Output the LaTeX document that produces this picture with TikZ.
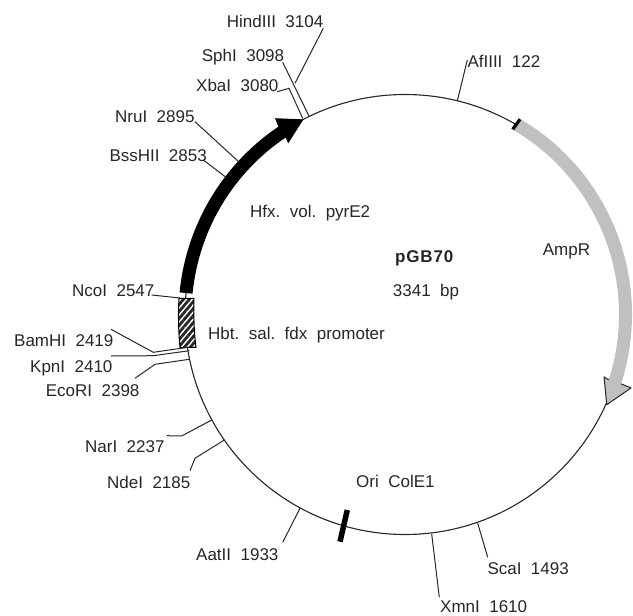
\documentclass[tikz,border=0pt]{standalone}
\usepackage{fontspec}
\setmainfont{Liberation Sans}
\newfontfamily\labbold[LetterSpace=5]{Liberation Sans Bold}
\usetikzlibrary{patterns.meta}
\definecolor{ampgray}{RGB}{192,192,192}
\newcommand{\gp}{\ \ }
\tikzset{
  x=1pt,y=-1pt,
  lab/.style={anchor=base west,inner sep=0pt,font=\fontsize{17}{20}\selectfont,text=black!85},
  wire/.style={draw=black!85,line width=1pt,line join=round},
  ring/.style={draw=black!85,line width=1.1pt}
}
\begin{document}
\begin{tikzpicture}
\useasboundingbox (0,0) rectangle (633,616);
\coordinate (C) at (405,314.5);
% backbone
\draw[ring] (C) circle[radius=220pt];
% black gene arrow
\fill[black] ([shift={(174.4:226.5pt)}]405pt,-314.5pt) arc[start angle=174.4,end angle=124,radius=226.5pt]
  -- ([shift={(123.5:235.4pt)}]405pt,-314.5pt) -- ([shift={(117.5:220pt)}]405pt,-314.5pt)
  -- ([shift={(124.3:207.2pt)}]405pt,-314.5pt) -- ([shift={(124:213.5pt)}]405pt,-314.5pt)
  arc[start angle=124,end angle=174.4,radius=213.5pt] -- cycle;
% gray gene arrow
\fill[ampgray] ([shift={(59.8:227pt)}]405pt,-314.5pt) arc[start angle=59.8,end angle=-17.8,radius=227pt]
  -- ([shift={(-18:237.7pt)}]405pt,-314.5pt) -- ([shift={(-24.1:221pt)}]405pt,-314.5pt)
  -- ([shift={(-17.4:208.6pt)}]405pt,-314.5pt) -- ([shift={(-17.8:214pt)}]405pt,-314.5pt)
  arc[start angle=-17.8,end angle=59.8,radius=214pt] -- cycle;
\draw[wire] ([shift={(-17.8:227pt)}]405pt,-314.5pt) -- ([shift={(-18:237.7pt)}]405pt,-314.5pt)
  -- ([shift={(-24.1:221pt)}]405pt,-314.5pt) -- ([shift={(-17.4:208.6pt)}]405pt,-314.5pt)
  -- ([shift={(-17.8:214pt)}]405pt,-314.5pt);
\draw[black,line width=3.2pt] (520,119.3) -- (512.7,129.3);
% promoter hatch
\fill[white] (179,298.3) -- (194,298.3) -- (196,347.3) -- (180,347.3) -- cycle;
\draw[black,line width=1pt,pattern={Lines[angle=50,distance=4.5pt,line width=2.8pt]},pattern color=black!85]
  (179,298.3) -- (194,298.3) .. controls (193.5,315) and (194,332) .. (196,347.3) -- (180,347.3) .. controls (178.5,332) and (178,315) .. (179,298.3) -- cycle;
% Ori bar
\draw[black,line width=5.5pt] (347.3,510) -- (340,541.7);
% text
\node[lab] (hind) at (226.7,27.5) {HindIII\gp 3104};
\node[lab] (sph) at (201.7,61) {SphI\gp 3098};
\node[lab] (xba) at (196,91.7) {XbaI\gp 3080};
\node[lab] (nru) at (115,122.3) {NruI\gp 2895};
\node[lab] (bss) at (109.3,161) {BssHII\gp 2853};
\node[lab] (nco) at (72,296) {NcoI\gp 2547};
\node[lab] (bam) at (14,346.7) {BamHI\gp 2419};
\node[lab] (kpn) at (30,372.3) {KpnI\gp 2410};
\node[lab] (eco) at (45.7,396) {EcoRI\gp 2398};
\node[lab] (nar) at (85,452.7) {NarI\gp 2237};
\node[lab] (nde) at (107,488.3) {NdeI\gp 2185};
\node[lab] (aat) at (196,560) {AatII\gp 1933};
\node[lab] (sca) at (487.3,574.3) {ScaI\gp 1493};
\node[lab] (xmn) at (440,612) {XmnI\gp 1610};
\node[lab] (afl) at (467.3,67.3) {AfIIII\gp 122};
\node[lab] (amp) at (542.7,255) {AmpR};
\node[lab] (hfx) at (250,217.7) {Hfx.\gp vol.\gp pyrE2};
\node[lab] (hbt) at (208,339) {Hbt.\gp sal.\gp fdx\gp promoter};
\node[lab] (ori) at (356,487.7) {Ori\gp ColE1};
\node[lab] (name) at (395,262.3) {\labbold pGB70};
\node[lab] (size) at (392.7,296) {3341\gp bp};
% connector ends
\coordinate (hindS) at (323.3,28.3); \coordinate (hindE) at (295,83.3);
\coordinate (sphS) at (282.7,62.3); \coordinate (sphE) at (309.3,116.7);
\coordinate (xbaS) at (277.3,91.7); \coordinate (xbaB) at (289,88.3); \coordinate (xbaE) at (302.7,118.3);
\coordinate (nruS) at (195,121.7); \coordinate (nruE) at (239.3,162.3);
\coordinate (bssS) at (203.3,160); \coordinate (bssE) at (226,177.3);
\coordinate (ncoS) at (151.7,295); \coordinate (ncoE) at (180,298);
\coordinate (bamS) at (111,329.3); \coordinate (bamB) at (153.3,352.3); \coordinate (bamE) at (188.3,347.3);
\coordinate (kpnS) at (111,356); \coordinate (kpnB) at (153.3,355.7); \coordinate (kpnE) at (189.3,350.7);
\coordinate (ecoS) at (135,378.3); \coordinate (ecoB) at (155,364.3); \coordinate (ecoE) at (189.3,359.3);
\coordinate (narS) at (166.7,435.7); \coordinate (narB) at (181.7,436); \coordinate (narE) at (211.7,420);
\coordinate (ndeS) at (190,470.7); \coordinate (ndeB) at (195,458.3); \coordinate (ndeE) at (224.3,440);
\coordinate (aatS) at (282.7,542.3); \coordinate (aatE) at (300,508.3);
\coordinate (xmnS) at (439.3,597.3); \coordinate (xmnE) at (431.7,534);
\coordinate (scaS) at (487.7,557.3); \coordinate (scaE) at (477.7,523.3);
\coordinate (aflS) at (467.3,60); \coordinate (aflE) at (457.3,101);
\draw[wire] (hindS) -- (hindE);
\draw[wire] (sphS) -- (sphE);
\draw[wire] (xbaS) -- (xbaB) -- (xbaE);
\draw[wire] (nruS) -- (nruE);
\draw[wire] (bssS) -- (bssE);
\draw[wire] (ncoS) -- (ncoE);
\draw[wire] (bamS) -- (bamB) -- (bamE);
\draw[wire] (kpnS) -- (kpnB) -- (kpnE);
\draw[wire] (ecoS) -- (ecoB) -- (ecoE);
\draw[wire] (narS) -- (narB) -- (narE);
\draw[wire] (ndeS) -- (ndeB) -- (ndeE);
\draw[wire] (aatS) -- (aatE);
\draw[wire] (xmnS) -- (xmnE);
\draw[wire] (scaS) -- (scaE);
\draw[wire] (aflS) -- (aflE);
\end{tikzpicture}
\end{document}
